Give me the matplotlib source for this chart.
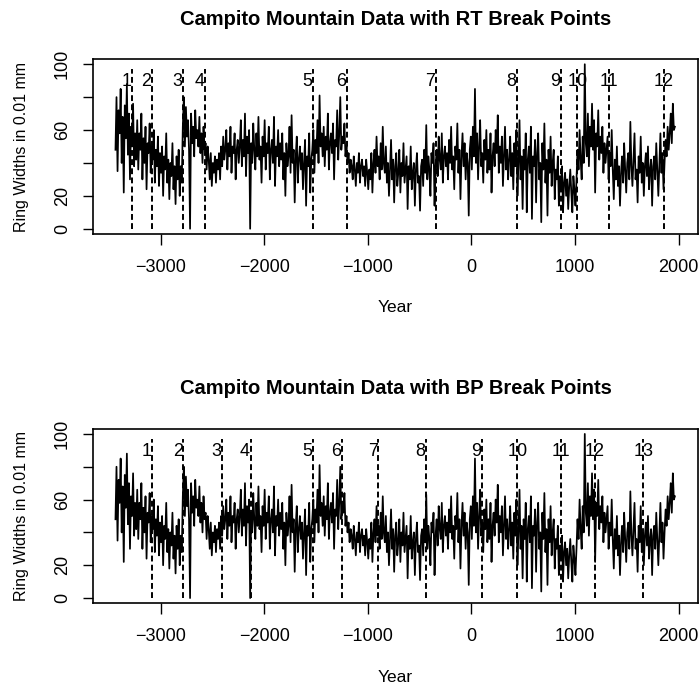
import numpy as np
import matplotlib
matplotlib.use("Agg")
import matplotlib.pyplot as plt

plt.rcParams['font.family'] = ['Liberation Sans', 'DejaVu Sans']

# ring widths (0.01 mm), one reading every 10 years from -3435
first_year = -3435
step = 10
widths = [
    48, 80, 35, 72, 58, 85, 40, 68, 22, 75, 55, 88, 45, 70, 30, 62, 50, 76, 38, 58,
    42, 66, 36, 58, 48, 70, 30, 55, 40, 62, 24, 52, 46, 64, 34, 50, 42, 60, 28, 48,
    38, 56, 26, 46, 34, 50, 20, 44, 36, 58, 28, 42, 18, 40, 32, 52, 24, 38, 15, 44,
    30, 48, 20, 38, 28, 62, 80, 50, 74, 56, 66, 48, 0, 70, 52, 62, 44, 72, 55, 60,
    50, 68, 46, 58, 40, 62, 48, 52, 36, 50, 42, 30, 46, 26, 40, 34, 44, 28, 42, 36,
    46, 30, 50, 38, 56, 42, 48, 60, 36, 52, 44, 62, 34, 50, 46, 58, 30, 48, 54, 40,
    50, 66, 38, 54, 44, 70, 32, 56, 46, 60, 0, 52, 40, 64, 48, 36, 58, 44, 68, 42,
    50, 28, 56, 44, 66, 36, 52, 46, 62, 30, 48, 54, 40, 68, 26, 50, 44, 60, 38, 52,
    42, 58, 30, 46, 20, 52, 38, 44, 62, 34, 69, 40, 48, 16, 44, 56, 28, 42, 50, 36,
    46, 24, 40, 54, 14, 44, 38, 58, 22, 42, 48, 60, 34, 54, 46, 66, 40, 81, 50, 58,
    44, 62, 38, 56, 48, 70, 36, 52, 58, 46, 64, 30, 54, 50, 72, 42, 58, 80, 48, 56,
    52, 64, 44, 50, 40, 46, 34, 42, 38, 30, 44, 36, 26, 40, 34, 46, 28, 38, 42, 32,
    38, 26, 42, 34, 24, 36, 30, 46, 22, 40, 48, 34, 56, 38, 44, 30, 52, 36, 62, 40,
    34, 50, 28, 40, 20, 36, 54, 30, 42, 16, 38, 46, 26, 34, 48, 22, 40, 32, 52, 28,
    36, 44, 12, 38, 30, 50, 24, 34, 40, 14, 36, 46, 28, 32, 11, 38, 42, 26, 48, 34,
    63, 30, 44, 36, 20, 46, 40, 52, 14, 38, 48, 32, 56, 42, 36, 58, 28, 44, 50, 38,
    46, 30, 54, 40, 62, 36, 44, 24, 50, 42, 64, 34, 48, 18, 44, 58, 38, 52, 30, 46,
    40, 8, 48, 56, 36, 62, 44, 85, 40, 58, 30, 50, 66, 38, 46, 28, 54, 42, 60, 34,
    48, 36, 58, 22, 44, 52, 38, 60, 46, 69, 34, 50, 40, 56, 26, 44, 62, 36, 48, 30,
    42, 56, 32, 46, 24, 52, 38, 60, 20, 40, 66, 30, 44, 12, 48, 36, 58, 10, 42, 50,
    34, 62, 6, 44, 38, 54, 16, 46, 58, 30, 40, 4, 52, 36, 64, 28, 42, 8, 48, 34,
    56, 26, 40, 48, 18, 36, 30, 44, 14, 32, 24, 38, 10, 28, 34, 20, 30, 12, 26, 36,
    22, 10, 32, 24, 14, 30, 48, 36, 60, 42, 30, 56, 40, 100, 52, 44, 70, 38, 62, 50,
    76, 48, 66, 22, 58, 50, 72, 42, 56, 46, 62, 34, 52, 40, 48, 56, 30, 46, 38, 60,
    36, 18, 42, 30, 50, 26, 38, 14, 34, 44, 28, 52, 36, 22, 40, 46, 30, 65, 38, 26,
    42, 58, 30, 36, 16, 44, 34, 56, 28, 40, 20, 38, 46, 32, 50, 24, 36, 42, 14, 38,
    44, 30, 52, 36, 20, 40, 58, 34, 46, 24, 40, 54, 44, 62, 48, 58, 70, 52, 76, 60,
    62,
]

rt_breaks = [-3272, -3085, -2786, -2570, -1531, -1203, -341, 444, 863, 1023, 1332, 1860]
bp_breaks = [-3079, -2780, -2409, -2129, -1531, -1251, -898, -437, 100, 444, 866, 1194, 1660]

titles = ['Campito Mountain Data with RT Break Points',
          'Campito Mountain Data with BP Break Points']

years = first_year + step * np.arange(len(widths))

W, H = 699, 688
fig = plt.figure(figsize=(W / 100, H / 100), dpi=100)

# axes boxes in pixels (left, top, right, bottom)
boxes = [(93.3, 59.3, 697.7, 234.0), (93.3, 429.0, 697.7, 603.3)]

for box, breaks, title in zip(boxes, [rt_breaks, bp_breaks], titles):
    l, t, r, b = box
    ax = fig.add_axes([l / W, 1 - b / H, (r - l) / W, (b - t) / H])
    ax.plot(years, widths, color='black', lw=1.25)

    ax.vlines(breaks, 0, 97, colors='black', lw=1.4, linestyles=(0, (3, 1.7)))
    for i, bx in enumerate(breaks):
        lab = str(i + 1)
        dx = -55 if len(lab) == 1 else 0
        ax.text(bx + dx, 89.5, lab, ha='center', va='center', fontsize=13)

    ax.set_xlim(-3649, 2185)
    ax.set_ylim(-3.2, 103)
    ax.set_xticks([-3000, -2000, -1000, 0, 1000, 2000])
    ax.set_yticks([0, 20, 40, 60, 80, 100])
    ax.set_yticklabels(['0', '20', '', '60', '', '100'], rotation=90, va='center')
    ax.tick_params(axis='x', length=8, width=1, pad=10, labelsize=13)
    ax.tick_params(axis='y', length=7, width=1, pad=9, labelsize=13)
    for sp in ax.spines.values():
        sp.set_linewidth(1.2)

    cx = (l + r) / 2
    fig.text(cx / W, 1 - (t - 40) / H, title, ha='center', va='center',
             fontsize=14.5, fontweight='bold')
    fig.text(cx / W, 1 - (b + 74) / H, 'Year', ha='center', va='center',
             fontsize=12.5)
    fig.text(21.7 / W, 1 - ((t + b) / 2) / H, 'Ring Widths in 0.01 mm',
             ha='center', va='center', rotation=90, fontsize=11.5)

fig.savefig('out.png', dpi=100)
